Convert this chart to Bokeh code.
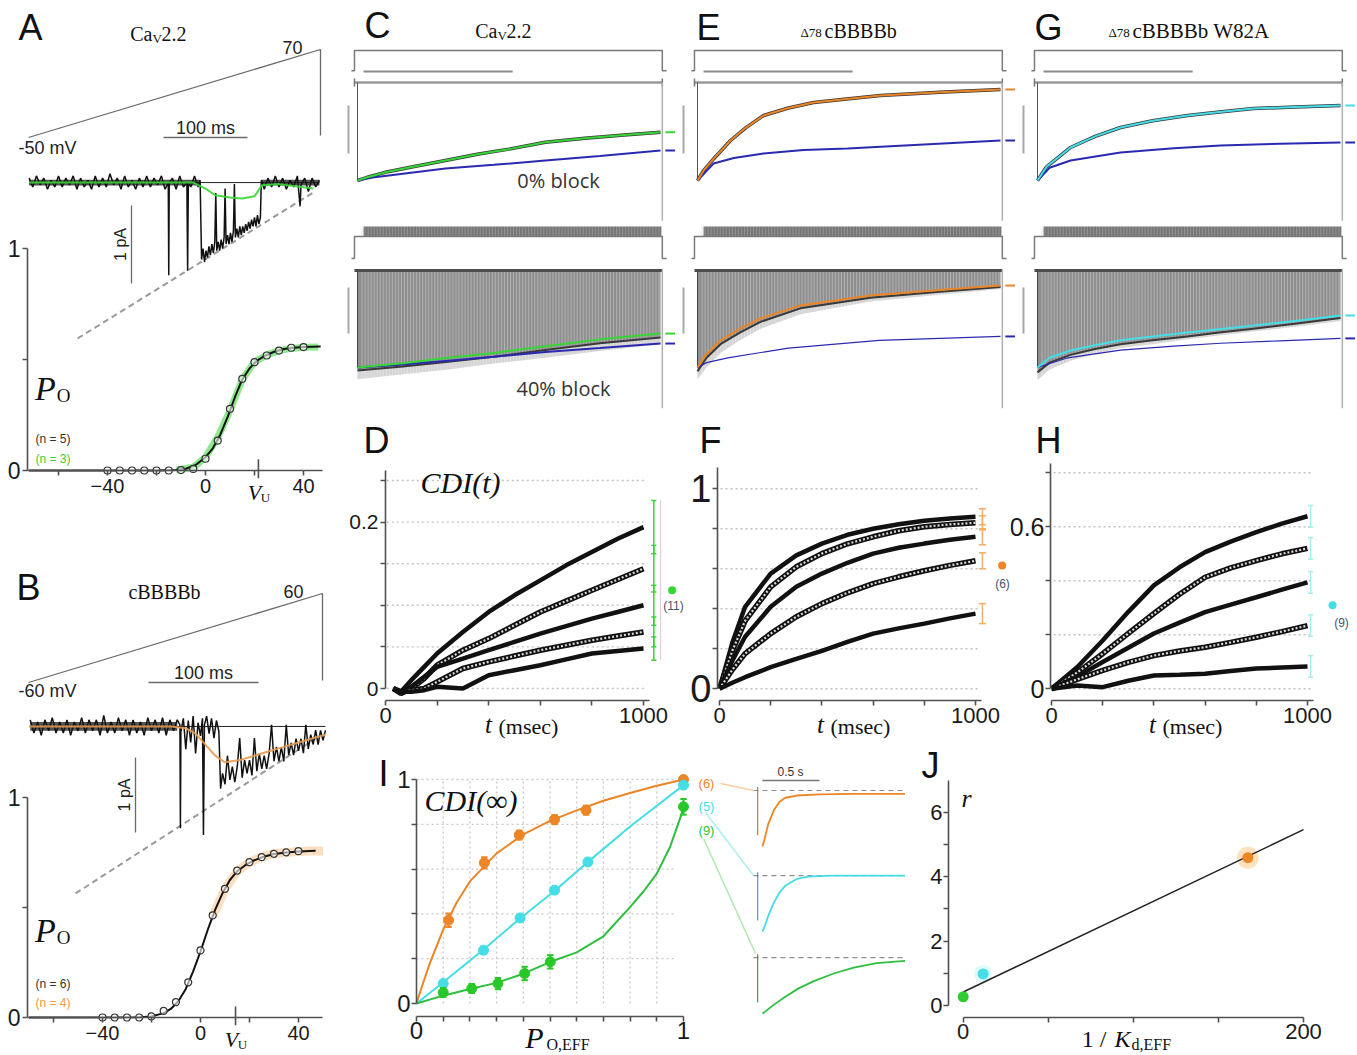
import numpy as np
from bokeh.plotting import figure
from bokeh.layouts import row, column
from bokeh.models import Range1d, FixedTicker, Label, LinearAxis
from bokeh.embed import file_html
from bokeh.resources import INLINE

# ======================= DATA =======================
# ---- A : CaV2.2 ramp, single-channel trace, Po-V ----
A_PO_V = [-40, -35, -30, -25, -20, -15, -10, -5, 0, 5, 10, 15, 20, 25, 30, 35, 40]
A_PO = [0, 0, 0, 0, 0, 0, 0.002, 0.007, 0.053, 0.135, 0.278, 0.413, 0.488, 0.518, 0.54, 0.553, 0.556]
A_FIT_V = [-72, -20, -12, -8, -4, 0, 3, 6, 9, 12, 15, 18, 21, 24, 28, 32, 36, 40, 47]
A_FIT_PO = [0, 0, 0.002, 0.008, 0.025, 0.06, 0.1, 0.16, 0.24, 0.33, 0.41, 0.46, 0.495, 0.515, 0.535, 0.547, 0.553, 0.556, 0.558]
A_GRN_V = [-12, -5, 0, 5, 10, 15, 20, 25, 30, 35, 40, 46]
A_GRN_PO = [0.002, 0.015, 0.06, 0.15, 0.27, 0.41, 0.49, 0.52, 0.54, 0.55, 0.555, 0.556]
A_VU = 21.6
A_BASE = 1.297
A_NOISE = [((-72, -2.2), (1.284, 1.31)), ((22.8, 46.5), (1.284, 1.31))]
A_GHK_V = [-52.2, 44.0]
A_GHK = [0.595, 1.252]
A_SMOOTH_V = [-72, -5, 0, 4, 10, 15, 20, 23, 30, 44]
A_SMOOTH = [1.297, 1.297, 1.27, 1.24, 1.23, 1.225, 1.235, 1.285, 1.29, 1.27]
A_TRACE = [(-72.0, 1.317), (-70.5, 1.277), (-69.0, 1.327), (-67.5, 1.287), (-66.0, 1.317), (-64.5, 1.267),
           (-63.0, 1.307), (-61.5, 1.277), (-60.0, 1.327), (-58.5, 1.277), (-57.0, 1.317), (-55.5, 1.287),
           (-54.0, 1.327), (-52.5, 1.267), (-51.0, 1.317), (-49.5, 1.277), (-48.0, 1.307), (-46.5, 1.267),
           (-45.0, 1.327), (-43.5, 1.277), (-42.0, 1.317), (-40.5, 1.277), (-39.0, 1.337), (-37.5, 1.287),
           (-36.0, 1.317), (-34.5, 1.267), (-33.0, 1.327), (-31.5, 1.277), (-30.0, 1.307), (-28.5, 1.267),
           (-27.0, 1.317), (-25.5, 1.277), (-24.0, 1.327), (-22.5, 1.277), (-21.0, 1.317), (-19.5, 1.287),
           (-18.0, 1.327), (-16.5, 1.267), (-15.2, 1.297), (-15.0, 0.880), (-14.8, 1.297), (-13.5, 1.317),
           (-12.0, 1.267), (-10.5, 1.327), (-9.0, 1.277), (-7.6, 1.297), (-7.3, 0.900), (-7.0, 1.297),
           (-6.0, 1.277), (-4.5, 1.327), (-3.0, 1.277), (-2.2, 1.307),
           (-1.6, 0.95), (-1.0, 1.0), (-0.4, 0.94), (0.2, 0.99), (0.8, 0.96), (1.4, 1.01), (2.0, 0.97),
           (2.6, 1.02), (3.2, 0.98), (3.8, 1.03), (4.2, 1.25), (4.6, 0.99), (5.2, 1.03), (5.8, 0.99),
           (6.4, 1.04), (7.0, 1.0), (7.6, 1.05), (8.0, 1.27), (8.4, 1.02), (9.0, 1.06), (9.6, 1.02),
           (10.2, 1.07), (10.8, 1.03), (11.4, 1.08), (11.8, 1.29), (12.2, 1.05), (12.8, 1.09), (13.4, 1.05),
           (14.0, 1.1), (14.6, 1.06), (15.2, 1.1), (15.8, 1.07), (16.4, 1.11), (17.0, 1.08), (17.6, 1.12),
           (18.2, 1.09), (18.8, 1.13), (19.4, 1.1), (20.0, 1.14), (20.6, 1.1), (21.2, 1.15), (21.8, 1.11),
           (22.4, 1.14),
           (22.8, 1.307), (24.0, 1.267), (25.5, 1.317), (27.0, 1.277), (28.5, 1.327), (30.0, 1.277),
           (31.5, 1.317), (33.0, 1.267), (34.5, 1.307), (36.0, 1.277), (37.5, 1.327), (38.6, 1.19),
           (39.0, 1.287), (40.5, 1.317), (42.0, 1.257), (43.5, 1.317), (45.0, 1.277), (46.5, 1.307)]

# ---- B : cBBBBb ----
B_PO_V = [-40, -35, -30, -25, -20, -15, -10, -5, 0, 5, 10, 15, 20, 25, 30, 35, 40]
B_PO = [0, 0, 0, 0, 0.005, 0.03, 0.07, 0.16, 0.305, 0.464, 0.585, 0.668, 0.706, 0.729, 0.744, 0.751, 0.756]
B_FIT_V = [-70, -25, -20, -15, -12, -9, -6, -3, 0, 3, 6, 9, 12, 15, 18, 21, 25, 30, 35, 40, 47]
B_FIT_PO = [0, 0.001, 0.005, 0.02, 0.04, 0.075, 0.13, 0.21, 0.3, 0.4, 0.49, 0.565, 0.625, 0.665, 0.69, 0.71, 0.728, 0.743, 0.75, 0.755, 0.758]
B_ORG_V = [5, 10, 15, 20, 25, 30, 35, 40, 45, 50]
B_ORG_PO = [0.46, 0.585, 0.665, 0.705, 0.73, 0.745, 0.75, 0.755, 0.757, 0.757]
B_VU = 14.3
B_BASE = 1.323
B_NOISE = [((-69.5, -9.5), (1.303, 1.343))]
B_GHK_V = [-51.0, 49.0]
B_GHK = [0.564, 1.282]
B_SMOOTH_V = [-70, -12, -6, -2, 2, 6, 10, 16, 22, 28, 34, 40, 46, 51]
B_SMOOTH = [1.323, 1.323, 1.315, 1.29, 1.24, 1.19, 1.16, 1.17, 1.19, 1.21, 1.23, 1.25, 1.27, 1.285]
B_TRACE = [(-69.5, 1.353), (-68, 1.293), (-66.5, 1.343), (-65, 1.283), (-63.5, 1.353), (-62, 1.303),
           (-60.5, 1.363), (-59, 1.293), (-57.5, 1.343), (-56, 1.293), (-54.5, 1.353), (-53, 1.283),
           (-51.5, 1.343), (-50, 1.303), (-48.5, 1.363), (-47, 1.293), (-45.5, 1.353), (-44, 1.303),
           (-42.5, 1.353), (-41, 1.283), (-39.5, 1.373), (-38, 1.293), (-36.5, 1.343), (-35, 1.293),
           (-33.5, 1.363), (-32, 1.303), (-30.5, 1.353), (-29, 1.283), (-27.5, 1.353), (-26, 1.293),
           (-24.5, 1.343), (-23, 1.283), (-21.5, 1.363), (-20, 1.303), (-18.5, 1.353), (-17, 1.293),
           (-15.5, 1.363), (-14, 1.283), (-12.5, 1.353), (-11, 1.303), (-9.5, 1.353),
           (-8.4, 1.33), (-8.2, 0.86), (-8.0, 1.30), (-7, 1.36), (-6, 1.22), (-5, 1.35), (-4, 1.25),
           (-3, 1.37), (-2, 1.2), (-1, 1.34), (0, 1.28), (0.8, 1.36), (1.2, 0.83), (1.6, 1.33),
           (2.5, 1.37), (3.5, 1.29), (4.5, 1.36), (5.5, 1.27), (6.5, 1.35), (7.5, 1.3),
           (8.2, 1.04), (9, 1.11), (10, 1.06), (11, 1.19), (12, 1.08), (13, 1.14), (14, 1.07), (15, 1.14),
           (16, 1.27), (17, 1.09), (18, 1.17), (19, 1.11), (20, 1.17), (21, 1.10), (22, 1.27), (23, 1.12),
           (24, 1.2), (25, 1.13), (26, 1.19), (27, 1.13), (28, 1.2), (29, 1.33), (30, 1.165), (31, 1.23),
           (32, 1.164), (33, 1.229), (34, 1.164), (35, 1.33), (36, 1.193), (37, 1.248), (38, 1.193),
           (39, 1.268), (40, 1.212), (41, 1.267), (42, 1.202), (43, 1.33), (44, 1.221), (45, 1.286),
           (46, 1.241), (47, 1.306), (48, 1.24), (49, 1.305), (50, 1.26), (51, 1.305)]

# ---- C / E / G : normalised currents (0 = zero current, -1 = peak), time in ms ----
PROT_T = [-20, -10, -10, 1006, 1006, 1020]
PULSE_T = list(range(15, 1000, 10))          # 100-Hz pulse train of the lower protocol

C_UP_T = [0, 30, 100, 200, 290, 400, 500, 620, 750, 880, 1000]
C_UP_G = [-1.0, -0.97, -0.91, -0.85, -0.796, -0.73, -0.68, -0.609, -0.57, -0.535, -0.507]
C_UPB_T = [0, 50, 150, 290, 450, 620, 800, 1000]
C_UP_B = [-1.0, -0.97, -0.93, -0.878, -0.84, -0.796, -0.75, -0.694]
C_LO_T = [0, 150, 300, 450, 620, 800, 1000]
C_LO_G = [-1.0, -0.955, -0.9, -0.85, -0.78, -0.71, -0.65]
C_LO_ENV = [-1.03, -0.99, -0.94, -0.89, -0.82, -0.75, -0.69]
C_LO_TAIL = [-1.12, -1.07, -1.02, -0.96, -0.9, -0.83, -0.76]
C_LOB_T = [0, 150, 300, 450, 620, 800, 1000]
C_LO_B = [-1.0, -0.97, -0.93, -0.89, -0.84, -0.8, -0.753]

E_UP_T = [0, 20, 53, 109, 160, 218, 300, 383, 500, 604, 800, 1000]
E_UP_O = [-1.0, -0.9, -0.78, -0.592, -0.46, -0.337, -0.26, -0.204, -0.165, -0.133, -0.1, -0.071]
E_UPB_T = [0, 53, 120, 218, 350, 495, 700, 1000]
E_UP_B = [-1.0, -0.827, -0.77, -0.724, -0.69, -0.673, -0.64, -0.592]
E_LO_T = [0, 30, 76, 140, 208, 340, 571, 800, 1000]
E_LO_O = [-1.0, -0.86, -0.72, -0.6, -0.495, -0.36, -0.258, -0.2, -0.155]
E_LO_ENV = [-1.04, -0.9, -0.76, -0.64, -0.53, -0.39, -0.28, -0.22, -0.17]
E_LO_TAIL = [-1.12, -1.0, -0.85, -0.72, -0.6, -0.45, -0.32, -0.25, -0.19]
E_LOB_T = [0, 30, 100, 300, 600, 1000]
E_LO_B = [-1.0, -0.95, -0.9, -0.8, -0.72, -0.68]

G_UP_T = [0, 30, 109, 190, 274, 380, 495, 600, 713, 850, 1000]
G_UP_C = [-1.0, -0.86, -0.663, -0.55, -0.459, -0.39, -0.337, -0.3, -0.265, -0.25, -0.235]
G_UPB_T = [0, 40, 109, 274, 450, 604, 800, 1000]
G_UP_B = [-1.0, -0.87, -0.796, -0.714, -0.67, -0.643, -0.625, -0.612]
G_LO_T = [0, 40, 109, 190, 274, 380, 495, 600, 713, 850, 1000]
G_LO_C = [-1.0, -0.9, -0.825, -0.77, -0.72, -0.68, -0.64, -0.605, -0.567, -0.52, -0.464]
G_LO_ENV = [-1.05, -0.95, -0.87, -0.81, -0.76, -0.72, -0.68, -0.64, -0.6, -0.55, -0.49]
G_LO_TAIL = [-1.13, -1.02, -0.93, -0.86, -0.8, -0.76, -0.71, -0.67, -0.63, -0.58, -0.52]
G_LOB_T = [0, 100, 274, 450, 604, 800, 1000]
G_LO_B = [-1.0, -0.9, -0.82, -0.78, -0.75, -0.725, -0.70]

# ---- D / F / H : CDI(t) ----
D_T = [30, 60, 100, 150, 200, 300, 400, 500, 600, 700, 800, 900, 1000]
D_CURVES = [
    [0, -0.004, 0.01, 0.026, 0.042, 0.068, 0.092, 0.112, 0.13, 0.148, 0.164, 0.18, 0.194],
    [0, -0.006, 0.0, 0.012, 0.028, 0.046, 0.06, 0.076, 0.092, 0.105, 0.118, 0.131, 0.144],
    [0, -0.005, 0.002, 0.014, 0.026, 0.036, 0.046, 0.056, 0.066, 0.075, 0.084, 0.092, 0.1],
    [0, -0.004, -0.002, 0.0, 0.008, 0.024, 0.032, 0.039, 0.046, 0.052, 0.058, 0.063, 0.068],
    [0, -0.004, -0.004, -0.002, 0.002, 0.0, 0.016, 0.022, 0.028, 0.035, 0.042, 0.045, 0.048],
]
D_ERR = [0.032, 0.028, 0.024, 0.018, 0.014]
D_DOT = (1111, 0.118)

F_T = [0, 50, 100, 200, 300, 400, 500, 600, 700, 800, 900, 1000]
F_CURVES = [
    [0, 0.23, 0.41, 0.576, 0.667, 0.726, 0.77, 0.80, 0.823, 0.84, 0.852, 0.86],
    [0, 0.19, 0.34, 0.51, 0.61, 0.676, 0.725, 0.76, 0.79, 0.81, 0.822, 0.83],
    [0, 0.14, 0.26, 0.41, 0.51, 0.576, 0.63, 0.676, 0.705, 0.726, 0.745, 0.76],
    [0, 0.095, 0.176, 0.276, 0.36, 0.426, 0.48, 0.526, 0.56, 0.59, 0.617, 0.64],
    [0, 0.03, 0.058, 0.108, 0.15, 0.19, 0.235, 0.276, 0.302, 0.326, 0.352, 0.376],
]
F_ERR = [0.04, 0.035, 0.04, 0.04, 0.05]
F_DOT = (1104, 0.616)

H_T = [0, 100, 200, 300, 400, 500, 600, 700, 800, 900, 1000]
H_CURVES = [
    [0, 0.08, 0.179, 0.285, 0.383, 0.45, 0.506, 0.545, 0.58, 0.612, 0.639],
    [0, 0.06, 0.13, 0.205, 0.279, 0.35, 0.413, 0.448, 0.475, 0.5, 0.52],
    [0, 0.045, 0.099, 0.152, 0.205, 0.245, 0.284, 0.312, 0.339, 0.367, 0.394],
    [0, 0.035, 0.068, 0.098, 0.123, 0.14, 0.154, 0.172, 0.191, 0.212, 0.234],
    [0, 0.012, 0.006, 0.03, 0.049, 0.052, 0.056, 0.066, 0.075, 0.079, 0.083],
]
H_ERR = [0.04, 0.04, 0.04, 0.04, 0.04]
H_DOT = (1098, 0.309)

# ---- I : CDI(inf) vs Po,EFF ----
I_X_O = [0.12, 0.254, 0.385, 0.517, 0.635, 1.0]
I_Y_O = [0.372, 0.628, 0.752, 0.821, 0.863, 1.0]
I_E_O = [0.03, 0.025, 0.02, 0.02, 0.02, 0.01]
I_X_C = [0.1, 0.251, 0.388, 0.517, 0.642, 1.0]
I_Y_C = [0.089, 0.238, 0.382, 0.506, 0.632, 0.975]
I_E_C = [0.015, 0.015, 0.015, 0.015, 0.015, 0.015]
I_X_G = [0.1, 0.207, 0.305, 0.405, 0.501, 1.0]
I_Y_G = [0.049, 0.067, 0.089, 0.134, 0.186, 0.878]
I_E_G = [0.02, 0.02, 0.025, 0.03, 0.03, 0.035]
I_FX_O = [0, 0.02, 0.05, 0.1, 0.15, 0.2, 0.3, 0.4, 0.5, 0.6, 0.7, 0.8, 0.9, 1.0]
I_FY_O = [0, 0.075, 0.18, 0.33, 0.45, 0.545, 0.67, 0.755, 0.815, 0.862, 0.905, 0.94, 0.972, 1.0]
I_FX_C = [0, 0.1, 0.25, 0.39, 0.52, 0.64, 0.8, 1.0]
I_FY_C = [0, 0.095, 0.24, 0.382, 0.506, 0.63, 0.79, 0.975]
I_FX_G = [0, 0.1, 0.2, 0.3, 0.4, 0.5, 0.6, 0.7, 0.8, 0.85, 0.9, 0.95, 1.0]
I_FY_G = [0, 0.035, 0.065, 0.092, 0.133, 0.185, 0.228, 0.3, 0.43, 0.5, 0.58, 0.7, 0.87]
I_N = ["(6)", "(5)", "(9)"]
# inset currents (time in s, normalised current)
IN_O_T = [0, 0.02, 0.05, 0.1, 0.15, 0.2, 0.3, 0.5, 0.8, 1.25]
IN_O_V = [-1, -0.85, -0.6, -0.35, -0.2, -0.13, -0.09, -0.07, -0.06, -0.06]
IN_C_T = [0, 0.02, 0.05, 0.1, 0.15, 0.2, 0.3, 0.4, 0.6, 1.25]
IN_C_V = [-1, -0.9, -0.72, -0.48, -0.3, -0.18, -0.06, -0.02, 0, 0]
IN_G_T = [0, 0.02, 0.05, 0.1, 0.2, 0.316, 0.45, 0.63, 0.8, 1.0, 1.25]
IN_G_V = [-1, -0.97, -0.92, -0.84, -0.7, -0.55, -0.42, -0.28, -0.18, -0.1, -0.06]

# ---- J : r vs 1/Kd,EFF ----
J_X = [0, 11.7, 167.3]
J_Y = [0.27, 0.98, 4.59]
J_FIT_X = [0, 200]
J_FIT_Y = [0.42, 5.46]

# ======================= STYLE =======================
SANS = "Liberation Sans"
SERIF = "Liberation Serif"
OPEN = "Open Sans"
GREEN = "#36d636"
ORANGE = "#ec8526"
CYAN = "#45dde6"
BLUE = "#2a2ab0"
AXC = "#505050"


def xmap(p0, v0, ppu):
    return lambda px: v0 + (px - p0) / ppu


def ymap(p0, v0, ppu):
    return lambda py: v0 + (p0 - py) / ppu


def fig(box, fx, fy):
    L, T, R, B = box
    p = figure(width=R - L, height=B - T,
               x_range=Range1d(fx(L), fx(R)), y_range=Range1d(fy(B), fy(T)),
               output_backend="svg", toolbar_location=None, tools="",
               min_border=0, x_axis_type=None, y_axis_type=None)
    p.outline_line_color = None
    p.background_fill_color = "white"
    p.border_fill_color = "white"
    return p


def add_axis(p, side, loc, ticks, minor, bounds, size, standoff=2):
    ax = LinearAxis(fixed_location=loc, bounds=bounds,
                    ticker=FixedTicker(ticks=ticks, minor_ticks=minor),
                    axis_line_color=AXC, axis_line_width=1.6,
                    major_tick_line_color=AXC, major_tick_line_width=1.6,
                    minor_tick_line_color=AXC, minor_tick_line_width=1.6,
                    major_tick_in=0, major_tick_out=5, minor_tick_in=0, minor_tick_out=5,
                    major_label_text_font=SANS, major_label_text_font_size=f"{size}px",
                    major_label_text_color="#1a1a1a", major_label_standoff=standoff)
    p.add_layout(ax, side)


def txt(p, fx, fy, px, py, text, size, font=SANS, style="normal", align="center",
        base="middle", color="#111111", angle=0.0):
    p.add_layout(Label(x=fx(px), y=fy(py), text=text, text_font=font,
                       text_font_size=f"{size}px", text_font_style=style,
                       text_align=align, text_baseline=base, text_color=color, angle=angle))


def pline(p, fx, fy, pts, **kw):
    p.line([fx(a) for a, b in pts], [fy(b) for a, b in pts], **kw)


# ======================= PANELS A / B =======================
def po_panel(box, x0px, y0px, yppu, letter, lpos, title, ramp, vlab, toplab, bar100, barpa,
             trace, base, noise, smooth_v, smooth, smooth_col, ghk_v, ghk, po_v, po, fit_v, fit_po,
             band_v, band, band_col, band_w, band_a, vu, vu_px, n_labels, po_lab_y):
    fx = xmap(x0px, 0, 2.45)
    fy = ymap(y0px, 0, yppu)
    p = fig(box, fx, fy)
    add_axis(p, "left", fx(27), [0, 1], [0.5], (0, 1), 23)
    add_axis(p, "below", 0, [-40, 0, 40], [-60, -20, 20], (fx(27), fx(322)), 20, standoff=3)
    p.segment(x0=[vu], y0=[-0.035], x1=[vu], y1=[0.05], line_color=AXC, line_width=1.6)
    pline(p, fx, fy, ramp, line_color="#6a6a6a", line_width=1.3)
    pline(p, fx, fy, bar100, line_color="#6a6a6a", line_width=1.3)
    pline(p, fx, fy, barpa, line_color="#6a6a6a", line_width=1.3)
    p.line(ghk_v, ghk, line_color="#9a9a9a", line_width=2, line_dash="6 4")
    for (xr, yr) in noise:
        p.varea(x=list(xr), y1=[yr[0], yr[0]], y2=[yr[1], yr[1]], fill_color="#1a1a1a", fill_alpha=0.75)
    tx = [a for a, b in trace]
    ty = [b for a, b in trace]
    p.line([fit_v[0], trace[-1][0]], [base, base], line_color="#222222", line_width=1)
    p.line(tx, ty, line_color="#111111", line_width=1.5)
    p.line(smooth_v, smooth, line_color=smooth_col, line_width=2, line_alpha=0.9)
    p.line(band_v, band, line_color=band_col, line_width=band_w, line_alpha=band_a)
    p.line(fit_v, fit_po, line_color="#111111", line_width=2)
    p.scatter(po_v, po, marker="circle", size=7, fill_color="white", fill_alpha=0.6,
              line_color="#333333", line_width=1.2)
    txt(p, fx, fy, lpos[0], lpos[1], letter, 36)
    for (px, py, s, sz, font, al) in title:
        txt(p, fx, fy, px, py, s, sz, font=font, align=al)
    txt(p, fx, fy, vlab[0], vlab[1], vlab[2], 18, align="left", color="#222222")
    txt(p, fx, fy, toplab[0], toplab[1], toplab[2], 18, color="#222222")
    txt(p, fx, fy, (bar100[0][0] + bar100[1][0]) / 2, bar100[0][1] - 10, "100 ms", 18, color="#222222")
    txt(p, fx, fy, barpa[0][0] - 11, (barpa[0][1] + barpa[1][1]) / 2, "1 pA", 16,
        color="#222222", angle=np.pi / 2)
    txt(p, fx, fy, 45, po_lab_y, "P", 34, font=SERIF, style="italic")
    txt(p, fx, fy, 63, po_lab_y + 7, "O", 19, font=SERIF)
    txt(p, fx, fy, vu_px - 4, y0px + 22, "V", 22, font=SERIF, style="italic")
    txt(p, fx, fy, vu_px + 7, y0px + 27, "U", 13, font=SERIF)
    for (py, s, c) in n_labels:
        txt(p, fx, fy, 35, py, s, 12, align="left", color=c)
    return p


pA = po_panel((0, 0, 345, 560), 205, 470, 222, "A", (30, 27),
              [(152, 33, "Ca", 20, SERIF, "right"), (152, 38, "V", 13, SERIF, "left"),
               (161, 33, "2.2", 20, SERIF, "left")],
              [(28, 137), (320, 49), (320, 135)], (18, 147, "-50 mV"), (292, 47, "70"),
              [(163, 137), (247, 137)], [(131, 205), (131, 283)],
              A_TRACE, A_BASE, A_NOISE, A_SMOOTH_V, A_SMOOTH, GREEN, A_GHK_V, A_GHK,
              A_PO_V, A_PO, A_FIT_V, A_FIT_PO, A_GRN_V, A_GRN_PO, GREEN, 7, 0.55,
              A_VU, 258, [(438, "(n = 5)", "#333333"), (458, "(n = 3)", "#3ccf3c")], 388)

pB = po_panel((0, 560, 345, 1055), 200, 1017, 220, "B", (28, 587),
              [(164, 591, "cBBBBb", 20, SERIF, "center")],
              [(28, 682), (322, 593), (322, 680)], (18, 690, "-60 mV"), (293, 591, "60"),
              [(148, 682), (258, 682)], [(135, 757), (135, 832)],
              B_TRACE, B_BASE, B_NOISE, B_SMOOTH_V, B_SMOOTH, "#e89a50", B_GHK_V, B_GHK,
              B_PO_V, B_PO, B_FIT_V, B_FIT_PO, B_ORG_V, B_ORG_PO, "#f3a24a", 9, 0.35,
              B_VU, 235, [(983, "(n = 6)", "#333333"), (1002, "(n = 4)", "#ee9a3a")], 930)


# ======================= PANELS C / E / G =======================
def ceg(L, R, t0, letter, lpos, titles, col, up_t, up_v, upb_t, upb_v,
        lo_t, lo_v, lo_env, lo_tail, lob_t, lob_v, blue_lo_w, blocks):
    fx = xmap(t0, 0, 0.303)
    fyU = ymap(82, 0, 98)
    fyL = ymap(270, 0, 97)
    pu = fig((L, 0, R, 222), fx, fyU)
    pl = fig((L, 222, R, 415), fx, fyL)
    n = len(PULSE_T)
    # ---- upper (single step) ----
    pu.line(PROT_T, [0.12, 0.12, 0.327, 0.327, 0.12, 0.12], line_color="#7a7a7a", line_width=1.5)
    pu.line([20, 512], [0.112, 0.112], line_color="#8a8a8a", line_width=2)
    pu.line([-10, 1006], [0, 0], line_color="#9a9a9a", line_width=2.5)
    pu.segment(x0=[-10, 1006], x1=[-10, 1006], y0=[0.04, 0.04], y1=[-0.04, -0.04],
               line_color="#777777", line_width=1.5)
    pu.segment(x0=[fx(L + 3)], y0=[-0.235], x1=[fx(L + 3)], y1=[-0.724], line_color="#a8a8a8", line_width=2)
    pu.segment(x0=[1006], y0=[0], x1=[1006], y1=[-1.41], line_color="#b0b0b0", line_width=1.5)
    pu.segment(x0=[0], y0=[0], x1=[0], y1=[-1.0], line_color="#555555", line_width=1)
    pu.line(up_t, up_v, line_color="#3a3a3a", line_width=3.5)
    pu.line(upb_t, upb_v, line_color=BLUE, line_width=2)
    pu.line(up_t, up_v, line_color=col, line_width=2)
    pu.segment(x0=[1016, 1016], x1=[1048, 1048], y0=[up_v[-1], upb_v[-1]], y1=[up_v[-1], upb_v[-1]],
               line_color=[col, BLUE], line_width=2)
    # ---- lower (pulse train) ----
    pl.quad(left=[20], right=[1003], bottom=[0.35], top=[0.454], fill_color="#767676", line_color=None)
    pl.segment(x0=PULSE_T, x1=PULSE_T, y0=[0.35] * n, y1=[0.454] * n,
               line_color="#bdbdbd", line_alpha=0.4, line_width=1)
    pl.line(PROT_T, [0.124, 0.124, 0.35, 0.35, 0.124, 0.124], line_color="#7a7a7a", line_width=1.5)
    pl.varea(x=lo_t, y1=lo_env, y2=lo_tail, fill_color="#d4d4d4")
    pl.varea(x=lo_t, y1=[0] * len(lo_t), y2=lo_env, fill_color="#8f8f8f")
    pl.segment(x0=PULSE_T, x1=PULSE_T, y0=[0] * n, y1=[-1.2] * n,
               line_color="white", line_alpha=0.3, line_width=1)
    pl.line([-10, 1006], [0, 0], line_color="#4d4d4d", line_width=3)
    pl.segment(x0=[fx(L + 3)], y0=[-0.175], x1=[fx(L + 3)], y1=[-0.65], line_color="#a8a8a8", line_width=2)
    pl.segment(x0=[1006], y0=[0], x1=[1006], y1=[-1.42], line_color="#b0b0b0", line_width=1.5)
    pl.segment(x0=[0], y0=[0], x1=[0], y1=[-1.0], line_color="#444444", line_width=1)
    pl.line(lo_t, lo_env, line_color="#3a3a3a", line_width=2)
    pl.line(lob_t, lob_v, line_color=BLUE, line_width=blue_lo_w)
    pl.line(lo_t, lo_v, line_color=col, line_width=2)
    pl.segment(x0=[1016, 1016], x1=[1048, 1048], y0=[lo_v[-1], lob_v[-1]], y1=[lo_v[-1], lob_v[-1]],
               line_color=[col, BLUE], line_width=2)
    # ---- texts ----
    txt(pu, fx, fyU, lpos[0], lpos[1], letter, 36)
    for (px, py, s, sz, al) in titles:
        txt(pu, fx, fyU, px, py, s, sz, font=SERIF, align=al)
    if blocks:
        txt(pu, fx, fyU, 558, 180, "0% block", 20, font=OPEN, color="#333333")
        txt(pl, fx, fyL, 563, 388, "40% block", 20, font=OPEN, color="#333333")
    return column(pu, pl)


colC = ceg(345, 680, 357, "C", (377, 25),
           [(497, 30, "Ca", 20, "right"), (497, 35, "V", 13, "left"), (506, 30, "2.2", 20, "left")],
           GREEN, C_UP_T, C_UP_G, C_UPB_T, C_UP_B, C_LO_T, C_LO_G, C_LO_ENV, C_LO_TAIL,
           C_LOB_T, C_LO_B, 2, True)
colE = ceg(680, 1020, 697, "E", (708, 27),
           [(800, 32, "\u039478", 13, "left"), (824, 30, "cBBBBb", 20, "left")],
           ORANGE, E_UP_T, E_UP_O, E_UPB_T, E_UP_B, E_LO_T, E_LO_O, E_LO_ENV, E_LO_TAIL,
           E_LOB_T, E_LO_B, 1.2, False)
colG = ceg(1020, 1357, 1037, "G", (1048, 27),
           [(1108, 32, "\u039478", 13, "left"), (1132, 30, "cBBBBb W82A", 21, "left")],
           CYAN, G_UP_T, G_UP_C, G_UPB_T, G_UP_B, G_LO_T, G_LO_C, G_LO_ENV, G_LO_TAIL,
           G_LOB_T, G_LO_B, 1.2, False)


# ======================= PANELS D / F / H =======================
def draw_cdi(p, t, curves):
    for i, c in enumerate(curves):
        if i % 2 == 0:
            p.line(t, c, line_color="#111111", line_width=4.5)
        else:
            p.line(t, c, line_color="#111111", line_width=5.5)
            p.line(t, c, line_color="#d9d9d9", line_width=2.2, line_dash="2 2")


def errbars(p, x, ys, errs, color, cap, width=1.5, alpha=1.0):
    n = len(ys)
    lo = [y - e for y, e in zip(ys, errs)]
    hi = [y + e for y, e in zip(ys, errs)]
    p.segment(x0=[x] * n, x1=[x] * n, y0=lo, y1=hi, line_color=color, line_width=width, line_alpha=alpha)
    p.segment(x0=[x - cap] * n, x1=[x + cap] * n, y0=lo, y1=lo, line_color=color, line_width=width, line_alpha=alpha)
    p.segment(x0=[x - cap] * n, x1=[x + cap] * n, y0=hi, y1=hi, line_color=color, line_width=width, line_alpha=alpha)


def t_label(p, fx, fy, px):
    txt(p, fx, fy, px, 724, "t", 25, font=SERIF, style="italic")
    txt(p, fx, fy, px + 10, 726, "(msec)", 22, font=SERIF, align="left")


# D
fxD = xmap(385, 0, 0.258)
fyD = ymap(688, 0, 832)
pD = fig((345, 415, 685, 745), fxD, fyD)
D_GRID = [0, 0.05, 0.1, 0.15, 0.2, 0.25]
pD.segment(x0=[5] * 6, x1=[1012] * 6, y0=D_GRID, y1=D_GRID, line_color="#c2c2c2", line_dash="2 3", line_width=1.4)
add_axis(pD, "left", 0, [0, 0.2], [0.05, 0.1, 0.15, 0.25], (0, 0.262), 21)
add_axis(pD, "below", fyD(700), [0, 1000], [200, 400, 600, 800], (0, 1025), 22)
pD.segment(x0=[1066], x1=[1066], y0=[0.034], y1=[0.226], line_color="#d9a6d9", line_width=1.2, line_alpha=0.6)
errbars(pD, 1040, [c[-1] for c in D_CURVES], D_ERR, GREEN, 10, 1.5)
draw_cdi(pD, D_T, D_CURVES)
pD.scatter([D_DOT[0]], [D_DOT[1]], marker="circle", size=8, fill_color=GREEN, line_color=None)
txt(pD, fxD, fyD, 673, 605, "(11)", 12, color="#445566")
txt(pD, fxD, fyD, 376, 440, "D", 36)
txt(pD, fxD, fyD, 420, 482, "CDI(t)", 30, font=SERIF, style="italic", align="left")
t_label(pD, fxD, fyD, 488)

# F
fxF = xmap(719, 0, 0.256)
fyF = ymap(688.3, 0, 200)
pF = fig((685, 415, 1010, 745), fxF, fyF)
F_GRID = [0, 0.2, 0.4, 0.6, 0.8, 1.0]
pF.segment(x0=[4] * 6, x1=[1020] * 6, y0=F_GRID, y1=F_GRID, line_color="#c2c2c2", line_dash="2 3", line_width=1.4)
add_axis(pF, "left", fxF(717), [0, 1], [0.2, 0.4, 0.6, 0.8], (0, 1.107), 38, standoff=1)
add_axis(pF, "below", fyF(700), [0, 1000], [200, 400, 600, 800], (0, 1025), 22)
errbars(pF, 1027, [c[-1] for c in F_CURVES], F_ERR, "#f2ae6a", 14, 1.5)
draw_cdi(pF, F_T, F_CURVES)
pF.scatter([F_DOT[0]], [F_DOT[1]], marker="circle", size=8, fill_color=ORANGE, line_color=None)
txt(pF, fxF, fyF, 1002, 583, "(6)", 12, color="#445566")
txt(pF, fxF, fyF, 710, 440, "F", 36)
t_label(pF, fxF, fyF, 820)

# H
fxH = xmap(1051, 0, 0.256)
fyH = ymap(688.3, 0, 270)
pH = fig((1010, 415, 1357, 745), fxH, fyH)
H_GRID = [0, 0.2, 0.4, 0.6, 0.8]
pH.segment(x0=[8] * 5, x1=[1012] * 5, y0=H_GRID, y1=H_GRID, line_color="#c2c2c2", line_dash="2 3", line_width=1.4)
add_axis(pH, "left", fxH(1050), [0, 0.6], [0.2, 0.4, 0.8], (0, 0.834), 25, standoff=1)
add_axis(pH, "below", fyH(700), [0, 1000], [200, 400, 600, 800], (0, 1025), 22)
errbars(pH, 1012, [c[-1] for c in H_CURVES], H_ERR, "#a6eeee", 10, 1.5)
draw_cdi(pH, H_T, H_CURVES)
pH.scatter([H_DOT[0]], [H_DOT[1]], marker="circle", size=8, fill_color=CYAN, line_color=None)
txt(pH, fxH, fyH, 1341, 622, "(9)", 12, color="#445566")
txt(pH, fxH, fyH, 1048, 440, "H", 36)
t_label(pH, fxH, fyH, 1152)

# ======================= PANEL I =======================
fxI = xmap(416, 0, 267)
fyI = ymap(1003, 0, 224)
pI = fig((345, 745, 920, 1055), fxI, fyI)
IG_Y = [0.2, 0.4, 0.6, 0.8, 1.0]
IG_X = [0.1, 0.2, 0.3, 0.4, 0.5, 0.6, 0.7, 0.8, 0.9]
pI.segment(x0=[0] * 5, x1=[0.97] * 5, y0=IG_Y, y1=IG_Y, line_color="#cfc6c6", line_dash="2 3", line_width=1.3)
pI.segment(x0=IG_X, x1=IG_X, y0=[0] * 9, y1=[1.0] * 9, line_color="#cfc6c6", line_dash="2 3", line_width=1.3)
add_axis(pI, "left", 0, [0, 1], [0.2, 0.4, 0.6, 0.8], (0, 1), 24, standoff=1)
add_axis(pI, "below", fyI(1016), [0, 1], IG_X, (0, 1), 24, standoff=0)
pI.line(I_FX_O, I_FY_O, line_color=ORANGE, line_width=2)
pI.line(I_FX_C, I_FY_C, line_color=CYAN, line_width=2)
pI.line(I_FX_G, I_FY_G, line_color="#2fbf3f", line_width=2)
for xs, ys, es, c in [(I_X_O, I_Y_O, I_E_O, ORANGE), (I_X_C, I_Y_C, I_E_C, CYAN), (I_X_G, I_Y_G, I_E_G, "#28c828")]:
    lo = [y - e for y, e in zip(ys, es)]
    hi = [y + e for y, e in zip(ys, es)]
    pI.segment(x0=xs, x1=xs, y0=lo, y1=hi, line_color=c, line_width=2)
    pI.segment(x0=[x - 0.012 for x in xs], x1=[x + 0.012 for x in xs], y0=lo, y1=lo, line_color=c, line_width=2)
    pI.segment(x0=[x - 0.012 for x in xs], x1=[x + 0.012 for x in xs], y0=hi, y1=hi, line_color=c, line_width=2)
    pI.scatter(xs, ys, marker="circle", size=10, fill_color=c, line_color=c)
IN_X0 = 1.296
IN_S = 0.427
IN_D = 0.25
IN_BASE = [0.951, 0.571, 0.205]
conn = [((720, 783), (753, 790), "#f8cfa5"), ((705, 812), (753, 875), "#aef0f0"),
        ((703, 838), (755, 953), "#b0e8b0")]
for (a, b, c) in conn:
    pline(pI, fxI, fyI, [a, b], line_color=c, line_width=1.5)
for tt, vv, c, c2, base in [(IN_O_T, IN_O_V, ORANGE, "#b86010", IN_BASE[0]),
                            (IN_C_T, IN_C_V, CYAN, "#2090a0", IN_BASE[1]),
                            (IN_G_T, IN_G_V, "#2fbf3f", "#208030", IN_BASE[2])]:
    pI.line([1.262, 1.831], [base, base], line_color="#8f8f8f", line_dash="5 4", line_width=1.2)
    pI.segment(x0=[IN_X0 - 0.018], x1=[IN_X0 - 0.018], y0=[base + 0.015], y1=[base - 0.2],
               line_color=c2, line_width=1)
    pI.line([IN_X0 + t * IN_S for t in tt], [base + v * IN_D for v in vv], line_color=c, line_width=1.8)
pline(pI, fxI, fyI, [(762, 780), (819, 780)], line_color="#777777", line_width=1.3)
txt(pI, fxI, fyI, 790, 771, "0.5 s", 12, color="#333333")
for (py, s, c) in [(783, I_N[0], ORANGE), (806, I_N[1], CYAN), (830, I_N[2], "#2fbf3f")]:
    txt(pI, fxI, fyI, 706, py, s, 13, color=c)
txt(pI, fxI, fyI, 383, 773, "I", 36)
txt(pI, fxI, fyI, 424, 800, "CDI(\u221e)", 30, font=SERIF, style="italic", align="left")
txt(pI, fxI, fyI, 534, 1037, "P", 30, font=SERIF, style="italic")
txt(pI, fxI, fyI, 546, 1044, "O,EFF", 16, font=SERIF, align="left")

# ======================= PANEL J =======================
fxJ = xmap(962.7, 0, 1.7015)
fyJ = ymap(1005, 0, 32.2)
pJ = fig((920, 745, 1357, 1055), fxJ, fyJ)
add_axis(pJ, "left", fxJ(948), [0, 2, 4, 6], [1, 3, 5], (0, 7), 22, standoff=1)
add_axis(pJ, "below", fyJ(1017), [0, 200], [50, 100, 150], (0, 200), 22, standoff=1)
pJ.scatter([J_X[2]], [J_Y[2]], marker="circle", size=22, fill_color="#ffe2bd", line_color=None)
pJ.scatter([J_X[1]], [J_Y[1]], marker="circle", size=18, fill_color="#dcfbfb", line_color=None)
pJ.line(J_FIT_X, J_FIT_Y, line_color="#222222", line_width=1.5)
pJ.scatter(J_X, J_Y, marker="circle", size=11, fill_color=["#2ecc2e", CYAN, ORANGE], line_color=None)
txt(pJ, fxJ, fyJ, 930, 765, "J", 36)
txt(pJ, fxJ, fyJ, 966, 798, "r", 26, font=SERIF, style="italic")
txt(pJ, fxJ, fyJ, 1112, 1038, "1 / ", 24, font=SERIF, align="right")
txt(pJ, fxJ, fyJ, 1122, 1038, "K", 24, font=SERIF, style="italic")
txt(pJ, fxJ, fyJ, 1131, 1044, "d,EFF", 16, font=SERIF, align="left")

# ======================= LAYOUT =======================
layout = row(column(pA, pB),
             column(row(colC, colE, colG), row(pD, pF, pH), row(pI, pJ)))

open("out.html", "w").write(file_html(layout, INLINE))
